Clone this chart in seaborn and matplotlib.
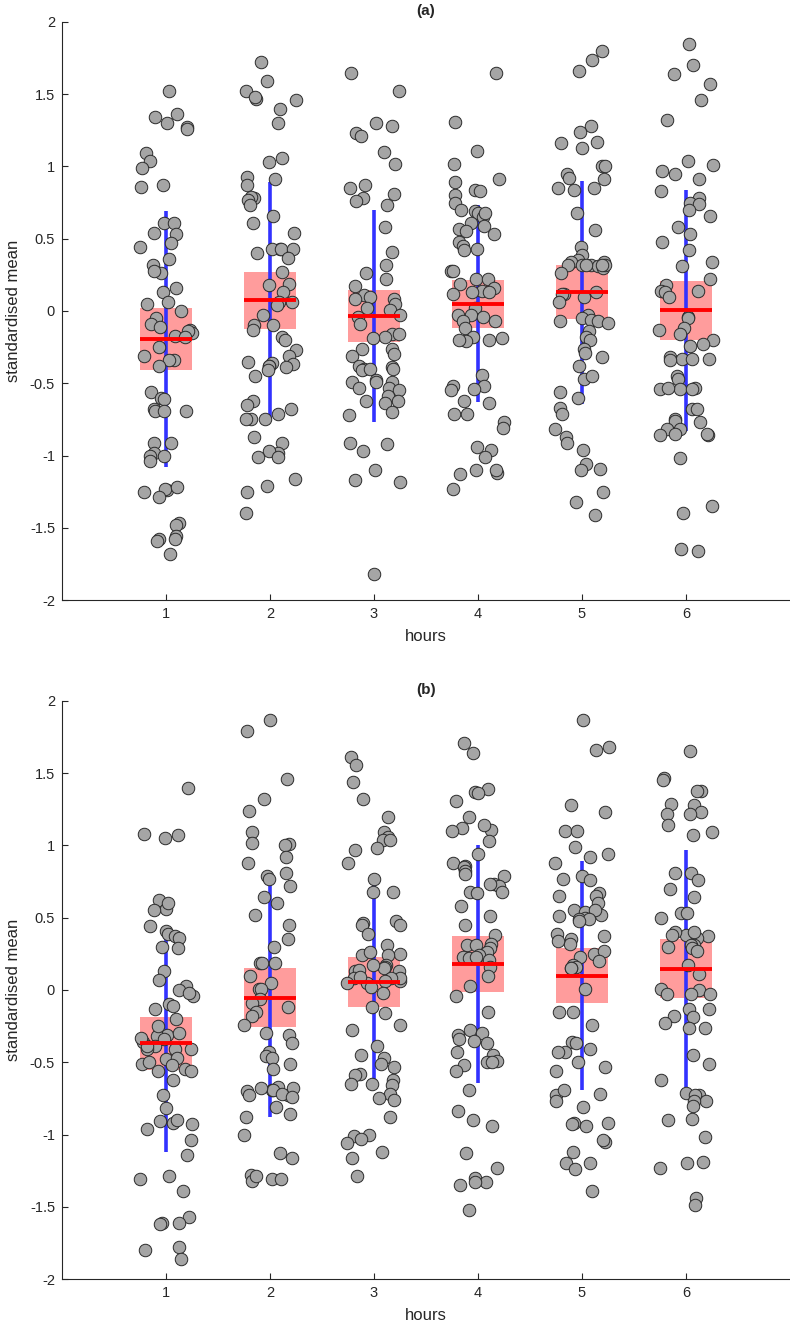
import numpy as np
import pandas as pd
import matplotlib
matplotlib.use("Agg")
import matplotlib.pyplot as plt
import seaborn as sns

hours = [1, 2, 3, 4, 5, 6]

# panel (a) values read per hour
a_h1 = [1.52, 1.36, 1.34, 1.30, 1.27, 1.26, 1.09, 1.04, 0.99, 0.87, 0.86, 0.61, 0.61,
        0.54, 0.53, 0.47, 0.44, 0.36, 0.32, 0.26, 0.28, 0.16, 0.13, 0.05, 0.06, 0.00,
        -0.05, -0.09, -0.11, -0.13, -0.15, -0.17, -0.14, -0.18, -0.25, -0.31, -0.34,
        -0.34, -0.38, -0.56, -0.60, -0.61, -0.68, -0.69, -0.69, -0.69, -0.91, -0.91,
        -0.98, -1.00, -1.00, -1.04, -1.24, -1.25, -1.23, -1.29, -1.22, -1.47, -1.48,
        -1.56, -1.58, -1.58, -1.59, -1.68]
a_h2 = [1.72, 1.59, 1.52, 1.47, 1.46, 1.48, 1.40, 1.30, 1.06, 1.03, 0.91, 0.93, 0.87,
        0.78, 0.79, 0.77, 0.73, 0.66, 0.61, 0.54, 0.43, 0.43, 0.43, 0.40, 0.43, 0.37,
        0.27, 0.18, 0.19, 0.13, 0.06, 0.06, 0.04, -0.03, -0.10, -0.10, -0.13, -0.18,
        -0.20, -0.27, -0.31, -0.36, -0.35, -0.38, -0.37, -0.39, -0.38, -0.41, -0.45,
        -0.62, -0.65, -0.68, -0.71, -0.75, -0.75, -0.75, -0.87, -0.91, -0.98, -0.97,
        -1.01, -1.01, -1.16, -1.21, -1.25, -1.40]
a_h3 = [1.65, 1.52, 1.30, 1.28, 1.23, 1.21, 1.10, 1.02, 0.87, 0.85, 0.81, 0.78, 0.73,
        0.76, 0.58, 0.41, 0.32, 0.26, 0.22, 0.17, 0.11, 0.10, 0.08, 0.08, 0.05, 0.01,
        -0.03, 0.02, -0.04, -0.09, -0.16, -0.16, -0.18, -0.19, -0.26, -0.26, -0.30,
        -0.31, -0.38, -0.39, -0.40, -0.40, -0.41, -0.40, -0.48, -0.49, -0.49, -0.49,
        -0.53, -0.53, -0.55, -0.59, -0.62, -0.62, -0.64, -0.70, -0.72, -0.91, -0.92,
        -0.97, -1.10, -1.17, -1.18, -1.82]
a_h4 = [1.65, 1.31, 1.11, 1.02, 0.91, 0.84, 0.89, 0.80, 0.83, 0.75, 0.70, 0.69, 0.68,
        0.65, 0.68, 0.61, 0.59, 0.57, 0.55, 0.53, 0.48, 0.45, 0.42, 0.43, 0.28, 0.28,
        0.22, 0.19, 0.22, 0.16, 0.14, 0.13, 0.13, 0.12, 0.02, -0.03, -0.04, -0.03,
        -0.07, -0.07, -0.12, -0.18, -0.19, -0.21, -0.20, -0.20, -0.44, -0.52, -0.52,
        -0.54, -0.55, -0.62, -0.64, -0.71, -0.71, -0.77, -0.81, -0.94, -0.96, -1.01,
        -1.10, -1.12, -1.13, -1.10, -1.23]
a_h5 = [1.80, 1.74, 1.66, 1.28, 1.24, 1.17, 1.16, 1.13, 1.00, 1.00, 0.95, 0.92, 0.91,
        0.84, 0.85, 0.85, 0.68, 0.56, 0.44, 0.39, 0.35, 0.34, 0.34, 0.32, 0.31, 0.30,
        0.32, 0.32, 0.32, 0.32, 0.32, 0.26, 0.13, 0.12, 0.10, 0.12, 0.06, -0.03, -0.05,
        -0.06, -0.07, -0.08, -0.07, -0.14, -0.18, -0.20, -0.26, -0.29, -0.32, -0.38,
        -0.47, -0.45, -0.56, -0.60, -0.67, -0.71, -0.82, -0.87, -0.91, -0.96, -1.06,
        -1.09, -1.10, -1.25, -1.32, -1.41]
a_h6 = [1.85, 1.70, 1.64, 1.57, 1.46, 1.32, 1.04, 1.01, 0.97, 0.95, 0.91, 0.83, 0.78,
        0.75, 0.74, 0.70, 0.66, 0.58, 0.53, 0.48, 0.42, 0.31, 0.34, 0.22, 0.18, 0.14,
        0.13, 0.10, 0.14, -0.04, -0.05, -0.12, -0.13, -0.16, -0.20, -0.23, -0.24,
        -0.32, -0.33, -0.33, -0.33, -0.34, -0.45, -0.47, -0.54, -0.54, -0.53, -0.53,
        -0.54, -0.68, -0.68, -0.75, -0.76, -0.77, -0.82, -0.82, -0.86, -0.86, -0.85,
        -0.85, -1.02, -1.35, -1.40, -1.66, -1.65]

# panel (b) values read per hour
b_h1 = [1.40, 1.07, 1.05, 1.08, 0.62, 0.56, 0.55, 0.60, 0.44, 0.41, 0.39, 0.37, 0.36,
        0.29, 0.30, 0.13, 0.03, 0.07, 0.00, -0.04, -0.02, -0.10, -0.13, -0.11, -0.20,
        -0.31, -0.32, -0.34, -0.36, -0.39, -0.41, -0.41, -0.41, -0.39, -0.33, -0.30,
        -0.25, -0.48, -0.51, -0.50, -0.47, -0.52, -0.55, -0.56, -0.56, -0.62, -0.73,
        -0.82, -0.91, -0.93, -0.92, -0.96, -0.90, -1.04, -1.14, -1.29, -1.31, -1.39,
        -1.57, -1.61, -1.61, -1.62, -1.78, -1.80, -1.86]
b_h2 = [1.87, 1.79, 1.46, 1.32, 1.24, 1.09, 1.01, 1.02, 1.00, 0.92, 0.88, 0.79, 0.81,
        0.77, 0.72, 0.64, 0.60, 0.52, 0.45, 0.35, 0.30, 0.19, 0.19, 0.19, 0.10, 0.05,
        0.01, 0.01, -0.06, -0.12, -0.09, -0.15, -0.18, -0.24, -0.30, -0.31, -0.37,
        -0.43, -0.46, -0.51, -0.47, -0.55, -0.67, -0.70, -0.73, -0.73, -0.69, -0.68,
        -0.69, -0.68, -0.72, -0.74, -0.81, -0.88, -0.86, -1.00, -1.13, -1.16, -1.28,
        -1.31, -1.31, -1.32, -1.29]
b_h3 = [1.61, 1.56, 1.44, 1.32, 1.20, 1.09, 1.06, 1.04, 1.04, 0.97, 0.98, 0.88, 0.77,
        0.68, 0.68, 0.46, 0.45, 0.39, 0.48, 0.45, 0.31, 0.25, 0.24, 0.24, 0.26, 0.17,
        0.16, 0.15, 0.17, 0.13, 0.13, 0.14, 0.06, 0.08, 0.08, 0.05, 0.08, 0.05, 0.02,
        0.09, 0.06, -0.02, -0.12, -0.16, -0.24, -0.28, -0.39, -0.47, -0.51, -0.45,
        -0.53, -0.58, -0.62, -0.65, -0.59, -0.66, -0.65, -0.72, -0.75, -0.76, -0.88,
        -1.00, -1.01, -1.03, -1.06, -1.12, -1.16, -1.29]
b_h4 = [1.71, 1.64, 1.39, 1.37, 1.36, 1.31, 1.20, 1.12, 1.11, 1.10, 1.14, 1.03, 0.94,
        0.88, 0.86, 0.85, 0.82, 0.80, 0.79, 0.73, 0.72, 0.73, 0.68, 0.68, 0.67, 0.58,
        0.51, 0.45, 0.38, 0.32, 0.31, 0.31, 0.29, 0.26, 0.24, 0.23, 0.22, 0.21, 0.23,
        0.16, 0.10, 0.03, -0.04, -0.15, -0.28, -0.30, -0.31, -0.34, -0.35, -0.37,
        -0.43, -0.45, -0.49, -0.50, -0.50, -0.52, -0.56, -0.69, -0.84, -0.90, -0.94,
        -1.13, -1.23, -1.30, -1.35, -1.33, -1.33, -1.52]
b_h5 = [1.87, 1.68, 1.66, 1.28, 1.23, 1.10, 1.10, 0.99, 0.94, 0.88, 0.92, 0.79, 0.77,
        0.76, 0.67, 0.65, 0.65, 0.60, 0.55, 0.52, 0.54, 0.51, 0.55, 0.50, 0.49, 0.49,
        0.48, 0.39, 0.37, 0.35, 0.32, 0.34, 0.25, 0.27, 0.23, 0.20, 0.17, 0.16, 0.15,
        0.15, 0.01, -0.15, -0.15, -0.24, -0.36, -0.37, -0.43, -0.43, -0.41, -0.50,
        -0.53, -0.56, -0.72, -0.73, -0.69, -0.77, -0.81, -0.92, -0.93, -0.92, -0.94,
        -1.05, -1.04, -1.12, -1.20, -1.20, -1.24, -1.39]
b_h6 = [1.65, 1.47, 1.45, 1.38, 1.38, 1.28, 1.29, 1.23, 1.22, 1.22, 1.14, 1.07, 1.09,
        0.81, 0.81, 0.76, 0.70, 0.64, 0.53, 0.50, 0.53, 0.38, 0.37, 0.36, 0.40, 0.40,
        0.38, 0.31, 0.31, 0.29, 0.30, 0.27, 0.17, 0.11, 0.01, 0.00, -0.03, -0.03,
        -0.03, -0.13, -0.13, -0.18, -0.19, -0.26, -0.23, -0.26, -0.45, -0.51, -0.62,
        -0.71, -0.73, -0.73, -0.77, -0.77, -0.80, -0.89, -0.90, -1.02, -1.20, -1.23,
        -1.19, -1.44, -1.49]

panels = {
    "(a)": [a_h1, a_h2, a_h3, a_h4, a_h5, a_h6],
    "(b)": [b_h1, b_h2, b_h3, b_h4, b_h5, b_h6],
}
y_ticks = [-2, -1.5, -1, -0.5, 0, 0.5, 1, 1.5, 2]

sns.set_style("ticks")
plt.rcParams["font.family"] = ["Liberation Sans", "DejaVu Sans"]
np.random.seed(3)

fig = plt.figure(figsize=(7.9, 13.29), dpi=100)
ax_a = fig.add_axes([0.0785, 0.5485, 0.9215, 0.435])
ax_b = fig.add_axes([0.0785, 0.0376, 0.9215, 0.435])

for ax, (title, groups) in zip([ax_a, ax_b], panels.items()):
    df = pd.DataFrame({
        "hours": np.repeat(hours, [len(g) for g in groups]),
        "value": np.concatenate(groups),
    })
    stats = df.groupby("hours")["value"].agg(["mean", "std", "count"])
    ci = 1.96 * stats["std"] / np.sqrt(stats["count"])

    # 95% CI box, SD line, points, mean line
    ax.bar(stats.index, 2 * ci, bottom=stats["mean"] - ci, width=0.5,
           color="#ff9c9c", edgecolor="none", zorder=1)
    ax.vlines(stats.index, stats["mean"] - stats["std"], stats["mean"] + stats["std"],
              color="#3232ff", linewidth=2.6, zorder=2)
    sns.stripplot(data=df, x="hours", y="value", native_scale=True, jitter=0.26,
                  size=9, color="#a5a5a5", edgecolor="#2a2a2a", linewidth=0.7,
                  ax=ax, zorder=3)
    ax.hlines(stats["mean"], stats.index - 0.25, stats.index + 0.25,
              color="#ff0000", linewidth=2.8, zorder=4)

    ax.set_xlim(0, 7)
    ax.set_ylim(-2, 2)
    ax.set_xticks(hours)
    ax.set_xticklabels([str(h) for h in hours])
    ax.set_yticks(y_ticks)
    ax.set_yticklabels([f"{v:g}" for v in y_ticks])
    ax.tick_params(direction="in", length=4, labelsize=10.5, colors="#262626", pad=5)
    for side in ["top", "right"]:
        ax.spines[side].set_visible(False)
    for side in ["left", "bottom"]:
        ax.spines[side].set_color("#262626")
        ax.spines[side].set_linewidth(0.8)
    ax.set_xlabel("hours", fontsize=12, labelpad=6)
    ax.set_ylabel("standardised mean", fontsize=12, labelpad=6)
    ax.set_title(title, fontsize=11, fontweight="bold", pad=5)

fig.savefig("out.png", dpi=100)
